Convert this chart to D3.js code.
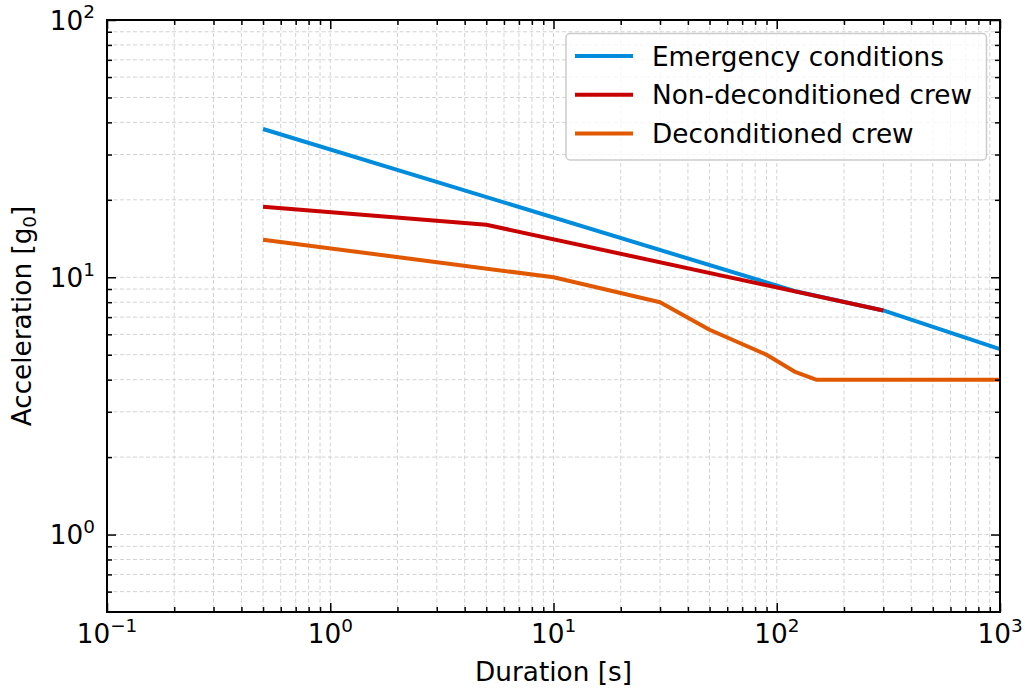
<!DOCTYPE html>
<html>
<head>
<meta charset="utf-8">
<script src="https://cdn.jsdelivr.net/npm/d3@7"></script>
<style>
  html, body { margin: 0; padding: 0; background: #fff; }
  text { font-family: "DejaVu Sans", sans-serif; fill: #000; }
</style>
</head>
<body>
<svg id="chart" width="1025" height="688"></svg>
<script>
// Acceleration tolerance limits vs. duration (log-log)
const seriesNames = ["Emergency conditions", "Non-deconditioned crew", "Deconditioned crew"];
const seriesColors = ["#008cdc", "#c80000", "#e05800"];

const emergencyDuration = [0.5, 120, 300, 1000];
const emergencyAccel = [37.7, 8.85, 7.43, 5.26];

const nonDecondDuration = [0.5, 5, 300];
const nonDecondAccel = [18.8, 16, 7.43];

const decondDuration = [0.5, 10, 30, 50, 90, 120, 150, 1000];
const decondAccel = [14, 10, 8, 6.25, 5, 4.3, 4, 4];

const xMajorTicks = [0.1, 1, 10, 100, 1000];
const xTickExponents = ["\u22121", "0", "1", "2", "3"];
const yMajorTicks = [1, 10, 100];
const yTickExponents = ["0", "1", "2"];

const xDomain = [0.1, 1000];
const yDomain = [0.5, 100];

const m = { left: 107, right: 1000, top: 20, bottom: 612 };
const svg = d3.select("#chart");

const x = d3.scaleLog().domain(xDomain).range([m.left, m.right]);
const y = d3.scaleLog().domain(yDomain).range([m.bottom, m.top]);

// minor tick values: 2..9 within each decade, clipped to domain
function minorTicks(domain) {
  const out = [];
  for (let e = -2; e <= 3; e++) {
    for (let k = 2; k <= 9; k++) {
      const v = k * Math.pow(10, e);
      if (v > domain[0] * 1.0001 && v < domain[1] * 0.9999) out.push(v);
    }
  }
  return out;
}
const xMinor = minorTicks(xDomain);
const yMinor = minorTicks(yDomain);
const yMajorIn = yMajorTicks.filter(v => v >= yDomain[0] && v <= yDomain[1]);

// grid
const grid = svg.append("g").attr("stroke", "#d3d3d3").attr("stroke-width", 1)
  .attr("stroke-dasharray", "4,2.5").attr("fill", "none");
grid.selectAll(".gx").data(xMajorTicks.concat(xMinor)).join("line")
  .attr("x1", d => x(d)).attr("x2", d => x(d))
  .attr("y1", m.top).attr("y2", m.bottom);
grid.selectAll(".gy").data(yMajorIn.concat(yMinor)).join("line")
  .attr("y1", d => y(d)).attr("y2", d => y(d))
  .attr("x1", m.left).attr("x2", m.right);

// series lines
const line = d3.line().x(d => x(d[0])).y(d => y(d[1]));
const series = [
  d3.zip(emergencyDuration, emergencyAccel),
  d3.zip(nonDecondDuration, nonDecondAccel),
  d3.zip(decondDuration, decondAccel)
];
const drawOrder = [2, 0, 1];
svg.append("g").selectAll("path").data(drawOrder).join("path")
  .attr("d", i => line(series[i]))
  .attr("fill", "none")
  .attr("stroke", i => seriesColors[i])
  .attr("stroke-width", 4)
  .attr("stroke-linejoin", "round");

// inward ticks on all four sides
function tickAxis(axisFn, scale, values, size, transform) {
  const g = svg.append("g").attr("transform", transform)
    .call(axisFn(scale).tickValues(values).tickSize(-size).tickFormat(""));
  g.select(".domain").remove();
  g.selectAll(".tick line").attr("stroke", "#000").attr("stroke-width", 1.5);
  return g;
}
tickAxis(d3.axisBottom, x, xMajorTicks, 9, `translate(0,${m.bottom})`);
tickAxis(d3.axisBottom, x, xMinor, 5, `translate(0,${m.bottom})`);
tickAxis(d3.axisTop, x, xMajorTicks, 9, `translate(0,${m.top})`);
tickAxis(d3.axisTop, x, xMinor, 5, `translate(0,${m.top})`);
tickAxis(d3.axisLeft, y, yMajorIn, 9, `translate(${m.left},0)`);
tickAxis(d3.axisLeft, y, yMinor, 5, `translate(${m.left},0)`);
tickAxis(d3.axisRight, y, yMajorIn, 9, `translate(${m.right},0)`);
tickAxis(d3.axisRight, y, yMinor, 5, `translate(${m.right},0)`);

// frame
svg.append("rect").attr("x", m.left).attr("y", m.top)
  .attr("width", m.right - m.left).attr("height", m.bottom - m.top)
  .attr("fill", "none").attr("stroke", "#000").attr("stroke-width", 2);

// tick labels as 10^n
const fs = 26.3;
function powLabel(sel, exp) {
  sel.append("tspan").text("10");
  sel.append("tspan").attr("dy", -fs * 0.42).attr("font-size", fs * 0.7).text(exp);
}
xMajorTicks.forEach((v, i) => {
  const t = svg.append("text").attr("x", x(v)).attr("y", 643)
    .attr("text-anchor", "middle").attr("font-size", fs);
  powLabel(t, xTickExponents[i]);
});
yMajorTicks.forEach((v, i) => {
  const t = svg.append("text").attr("x", 95).attr("y", y(v) + 9.5)
    .attr("text-anchor", "end").attr("font-size", fs);
  powLabel(t, yTickExponents[i]);
});

// axis titles
svg.append("text").attr("x", (m.left + m.right) / 2).attr("y", 681)
  .attr("text-anchor", "middle").attr("font-size", fs).text("Duration [s]");
const yl = svg.append("text").attr("transform", "translate(31,316) rotate(-90)")
  .attr("text-anchor", "middle").attr("font-size", fs);
yl.append("tspan").text("Acceleration [g");
yl.append("tspan").attr("dy", 5).attr("font-size", fs * 0.7).text("0");
yl.append("tspan").attr("dy", -5).text("]");

// legend
const lg = svg.append("g");
lg.append("rect").attr("x", 566).attr("y", 33.5).attr("width", 420.5).attr("height", 126.5)
  .attr("rx", 4).attr("fill", "#fff").attr("fill-opacity", 0.8)
  .attr("stroke", "#cccccc").attr("stroke-width", 1.5);
seriesNames.forEach((name, i) => {
  const cy = 56 + i * 38.8;
  lg.append("line").attr("x1", 575).attr("x2", 633).attr("y1", cy).attr("y2", cy)
    .attr("stroke", seriesColors[i]).attr("stroke-width", 4);
  lg.append("text").attr("x", 652).attr("y", cy + 9.5).attr("font-size", fs).text(name);
});
</script>
</body>
</html>
